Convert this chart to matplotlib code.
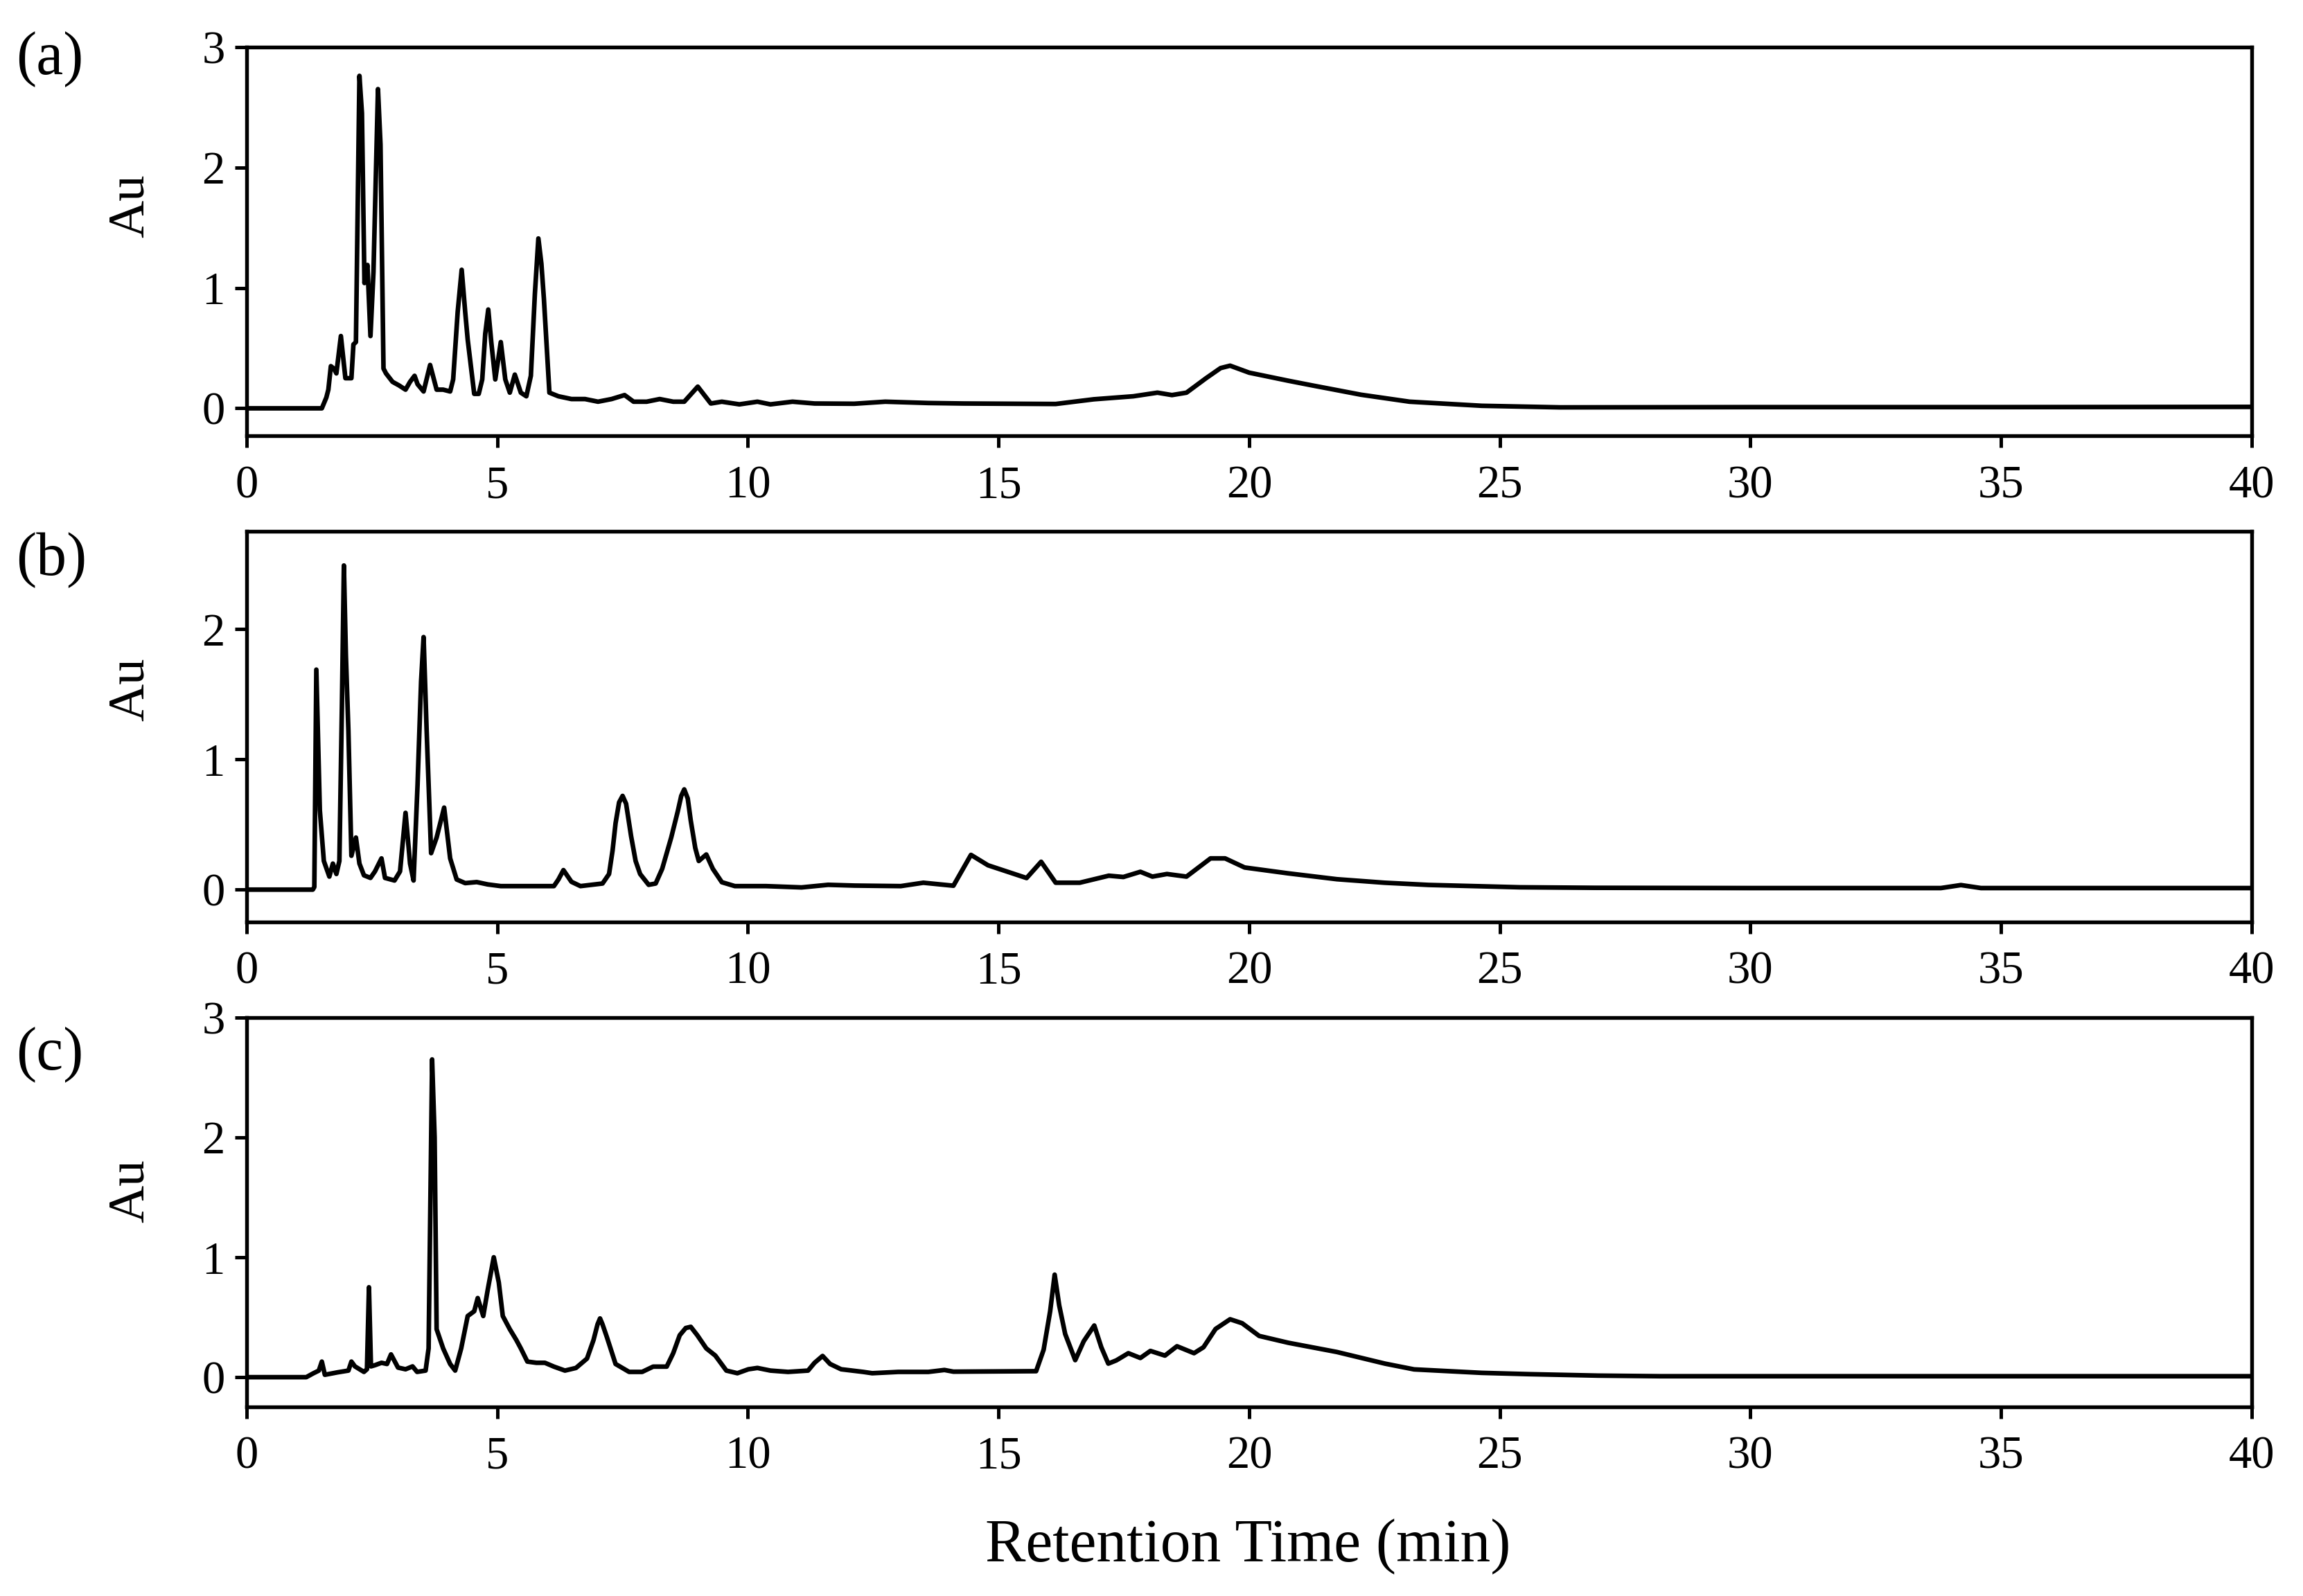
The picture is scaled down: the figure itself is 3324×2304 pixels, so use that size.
import matplotlib.pyplot as plt

# chromatogram (a)
t_a = [0, 1.50, 1.59, 1.63, 1.68, 1.74, 1.79, 1.88, 1.97, 2.09, 2.13, 2.18, 2.25, 2.30,
       2.35, 2.41, 2.47, 2.53, 2.62, 2.67, 2.73, 2.78, 2.91, 3.04, 3.17, 3.26, 3.35,
       3.41, 3.53, 3.66, 3.79, 3.92, 4.06, 4.12, 4.21, 4.29, 4.36, 4.41, 4.54, 4.63,
       4.70, 4.76, 4.82, 4.88, 4.96, 5.07, 5.16, 5.25, 5.35, 5.47, 5.58, 5.67, 5.75,
       5.82, 5.88, 5.93, 6.04, 6.22, 6.48, 6.75, 7.01, 7.28, 7.54, 7.72, 7.98, 8.24,
       8.51, 8.73, 9.00, 9.26, 9.48, 9.83, 10.19, 10.45, 10.89, 11.33, 12.12, 12.74,
       13.6, 14.3, 16.14, 16.9, 17.69, 18.17, 18.46, 18.75, 19.14, 19.43, 19.62, 20.0,
       20.78, 21.26, 22.23, 23.2, 24.64, 26.2, 30.0, 35.0, 40.0]
au_a = [0, 0, 0.09, 0.155, 0.35, 0.33, 0.29, 0.60, 0.25, 0.25, 0.53, 0.55, 2.76, 2.45,
        1.04, 1.19, 0.60, 1.13, 2.65, 2.19, 0.33, 0.29, 0.22, 0.19, 0.155, 0.22, 0.27,
        0.20, 0.14, 0.36, 0.155, 0.155, 0.14, 0.24, 0.80, 1.15, 0.80, 0.57, 0.12, 0.12,
        0.24, 0.62, 0.82, 0.55, 0.24, 0.55, 0.24, 0.13, 0.28, 0.13, 0.10, 0.27, 0.95,
        1.41, 1.20, 0.91, 0.13, 0.10, 0.077, 0.077, 0.055, 0.077, 0.11, 0.055, 0.055,
        0.077, 0.055, 0.055, 0.18, 0.04, 0.055, 0.033, 0.055, 0.033, 0.055, 0.04, 0.038,
        0.055, 0.044, 0.04, 0.036, 0.075, 0.10, 0.13, 0.11, 0.13, 0.25, 0.334, 0.354,
        0.296, 0.229, 0.19, 0.113, 0.055, 0.021, 0.008, 0.01, 0.01, 0.012]

# chromatogram (b)
t_b = [0, 1.32, 1.35, 1.39, 1.46, 1.54, 1.65, 1.72, 1.79, 1.85, 1.90, 1.94, 1.98, 2.03,
       2.09, 2.18, 2.25, 2.34, 2.47, 2.56, 2.69, 2.76, 2.95, 3.06, 3.17, 3.26, 3.33,
       3.41, 3.48, 3.53, 3.59, 3.68, 3.79, 3.94, 4.06, 4.19, 4.36, 4.59, 4.81, 5.07,
       5.51, 6.13, 6.22, 6.32, 6.48, 6.66, 7.10, 7.23, 7.30, 7.36, 7.43, 7.50, 7.57,
       7.67, 7.76, 7.85, 8.02, 8.16, 8.29, 8.47, 8.60, 8.67, 8.73, 8.80, 8.86, 8.95,
       9.02, 9.17, 9.30, 9.48, 9.74, 10.36, 11.07, 11.6, 12.13, 13.05, 13.5, 14.1,
       14.45, 14.79, 15.56, 15.85, 16.14, 16.62, 17.2, 17.49, 17.83, 18.07, 18.36,
       18.75, 19.23, 19.52, 19.91, 20.78, 21.75, 22.7, 23.58, 25.4, 26.9, 30.0, 33.8,
       34.2, 34.6, 40.0]
au_b = [0, 0, 0.02, 1.69, 0.61, 0.22, 0.10, 0.20, 0.12, 0.22, 1.40, 2.49, 1.80, 1.22,
        0.26, 0.40, 0.20, 0.11, 0.09, 0.14, 0.24, 0.09, 0.07, 0.14, 0.59, 0.20, 0.07,
        0.81, 1.60, 1.94, 1.23, 0.28, 0.40, 0.63, 0.24, 0.078, 0.05, 0.058, 0.04, 0.027,
        0.027, 0.027, 0.078, 0.15, 0.06, 0.027, 0.047, 0.12, 0.30, 0.51, 0.67, 0.72,
        0.66, 0.41, 0.22, 0.12, 0.037, 0.047, 0.16, 0.40, 0.60, 0.72, 0.77, 0.70, 0.53,
        0.32, 0.22, 0.27, 0.16, 0.057, 0.027, 0.027, 0.017, 0.037, 0.031, 0.027, 0.053,
        0.03, 0.267, 0.187, 0.089, 0.214, 0.053, 0.053, 0.107, 0.097, 0.137, 0.10, 0.12,
        0.10, 0.24, 0.24, 0.17, 0.125, 0.08, 0.053, 0.036, 0.018, 0.014, 0.012, 0.012,
        0.035, 0.012, 0.012]

# chromatogram (c)
t_c = [0, 1.19, 1.32, 1.44, 1.50, 1.56, 1.81, 2.03, 2.09, 2.16, 2.34, 2.40, 2.44, 2.48,
       2.56, 2.69, 2.80, 2.88, 3.02, 3.17, 3.31, 3.40, 3.57, 3.63, 3.70, 3.75, 3.79,
       3.92, 4.06, 4.16, 4.28, 4.41, 4.54, 4.61, 4.72, 4.81, 4.93, 5.03, 5.11, 5.25,
       5.38, 5.47, 5.60, 5.78, 5.95, 6.13, 6.35, 6.57, 6.79, 6.92, 7.00, 7.05, 7.10,
       7.19, 7.36, 7.63, 7.89, 8.11, 8.38, 8.51, 8.64, 8.76, 8.86, 8.99, 9.17, 9.35,
       9.57, 9.79, 10.01, 10.19, 10.45, 10.80, 11.20, 11.33, 11.49, 11.64, 11.86, 12.30,
       12.48, 13.0, 13.6, 13.92, 14.1, 15.75, 15.9, 16.03, 16.12, 16.21, 16.33, 16.53,
       16.70, 16.91, 17.05, 17.19, 17.35, 17.59, 17.83, 18.03, 18.32, 18.56, 18.90,
       19.09, 19.33, 19.62, 19.86, 20.2, 20.78, 21.75, 22.71, 23.29, 24.64, 25.6, 26.96,
       28.2, 40.0]
au_c = [0, 0, 0.03, 0.055, 0.13, 0.02, 0.04, 0.055, 0.13, 0.09, 0.044, 0.066, 0.75,
        0.09, 0.10, 0.12, 0.11, 0.19, 0.08, 0.066, 0.09, 0.044, 0.055, 0.24, 2.65, 2.0,
        0.40, 0.24, 0.11, 0.055, 0.24, 0.51, 0.55, 0.66, 0.51, 0.73, 1.00, 0.79, 0.51,
        0.40, 0.31, 0.24, 0.13, 0.12, 0.12, 0.088, 0.055, 0.077, 0.155, 0.31, 0.44,
        0.49, 0.44, 0.33, 0.11, 0.044, 0.044, 0.088, 0.088, 0.20, 0.35, 0.41, 0.42,
        0.35, 0.24, 0.18, 0.055, 0.033, 0.066, 0.077, 0.055, 0.044, 0.055, 0.12, 0.177,
        0.11, 0.066, 0.044, 0.033, 0.044, 0.044, 0.06, 0.046, 0.05, 0.229, 0.55, 0.855,
        0.60, 0.36, 0.142, 0.30, 0.431, 0.25, 0.113, 0.14, 0.20, 0.16, 0.219, 0.18,
        0.258, 0.20, 0.25, 0.402, 0.483, 0.45, 0.344, 0.287, 0.21, 0.113, 0.065, 0.036,
        0.025, 0.013, 0.008, 0.008]

labels = ["(a)", "(b)", "(c)"]
series = [(t_a, au_a), (t_b, au_b), (t_c, au_c)]
ylims = [(-0.23, 3.0), (-0.25, 2.75), (-0.245, 3.0)]
yticks = [[0, 1, 2, 3], [0, 1, 2], [0, 1, 2, 3]]

plt.rcParams['font.family'] = ['Liberation Serif', 'DejaVu Serif']

fig = plt.figure(figsize=(11.08, 7.68), dpi=300)

# axes boxes (left, bottom, width, height) in figure fraction
boxes = [(0.1071, 0.7268, 0.8706, 0.2438),
         (0.1071, 0.4222, 0.8706, 0.2447),
         (0.1071, 0.1187, 0.8706, 0.2438)]
label_y = [0.963, 0.649, 0.339]
au_y = [0.871, 0.568, 0.254]

for i in range(3):
    ax = fig.add_axes(boxes[i])
    t, au = series[i]
    ax.plot(t, au, color='black', lw=1.6, solid_joinstyle='round')
    ax.set_xlim(0, 40)
    ax.set_ylim(*ylims[i])
    ax.set_xticks(range(0, 41, 5))
    ax.set_yticks(yticks[i])
    ax.tick_params(direction='out', length=4, width=1.2, labelsize=16)
    ax.tick_params(axis='x', pad=6)
    for s in ax.spines.values():
        s.set_linewidth(1.3)
    fig.text(0.007, label_y[i], labels[i], fontsize=21, va='center', ha='left')
    fig.text(0.057, au_y[i], "Au", fontsize=18, rotation=90, va='center', ha='center')

fig.text(0.542, 0.031, "Retention Time (min)", fontsize=21, ha='center', va='center')

fig.savefig("out.png", dpi=300)
